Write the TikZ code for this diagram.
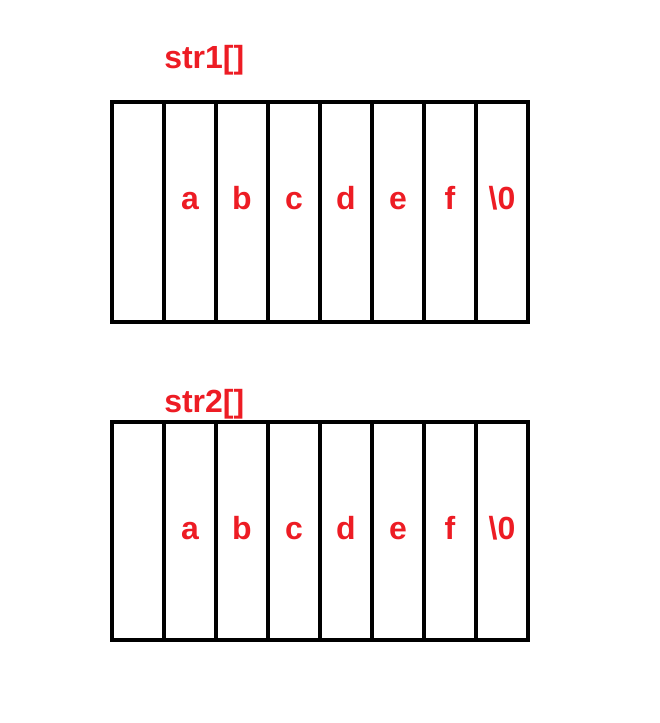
\documentclass[tikz,border=0pt]{standalone}
\usepackage{fontspec}
\setmainfont{Liberation Sans}
\usepackage{tikz}
\usepackage{xcolor}
\definecolor{strred}{RGB}{237,28,36}

\begin{document}
\begin{tikzpicture}[x=0.75pt, y=-0.75pt,
    cellbox/.style={line width=3.3pt},
    chr/.style={text=strred, font=\bfseries\fontsize{24}{28}\selectfont, inner sep=0pt}]
    \useasboundingbox (0,0) rectangle (659,723);

    \coordinate (T) at (112,102);
    \coordinate (TB) at (528,322);
    \coordinate (S) at (112,422);
    \coordinate (SB) at (528,640);

    \draw[cellbox] (T) rectangle (TB);
    \draw[cellbox] (S) rectangle (SB);
    \foreach \i in {1,...,7} {
        \draw[cellbox] (112+52*\i,102) -- (112+52*\i,322);
        \draw[cellbox] (112+52*\i,422) -- (112+52*\i,640);
    }

    \node[chr, anchor=base west] (str1) at (164,69) {str1[]};
    \node[chr, anchor=base west] (str2) at (164,412) {str2[]};

    \foreach \c [count=\i] in {a,b,c,d,e,f,\textbackslash0} {
        \node[chr, anchor=base] (s1\i) at (138+52*\i,210) {\c};
        \node[chr, anchor=base] (s2\i) at (138+52*\i,539) {\c};
    }
\end{tikzpicture}
\end{document}
